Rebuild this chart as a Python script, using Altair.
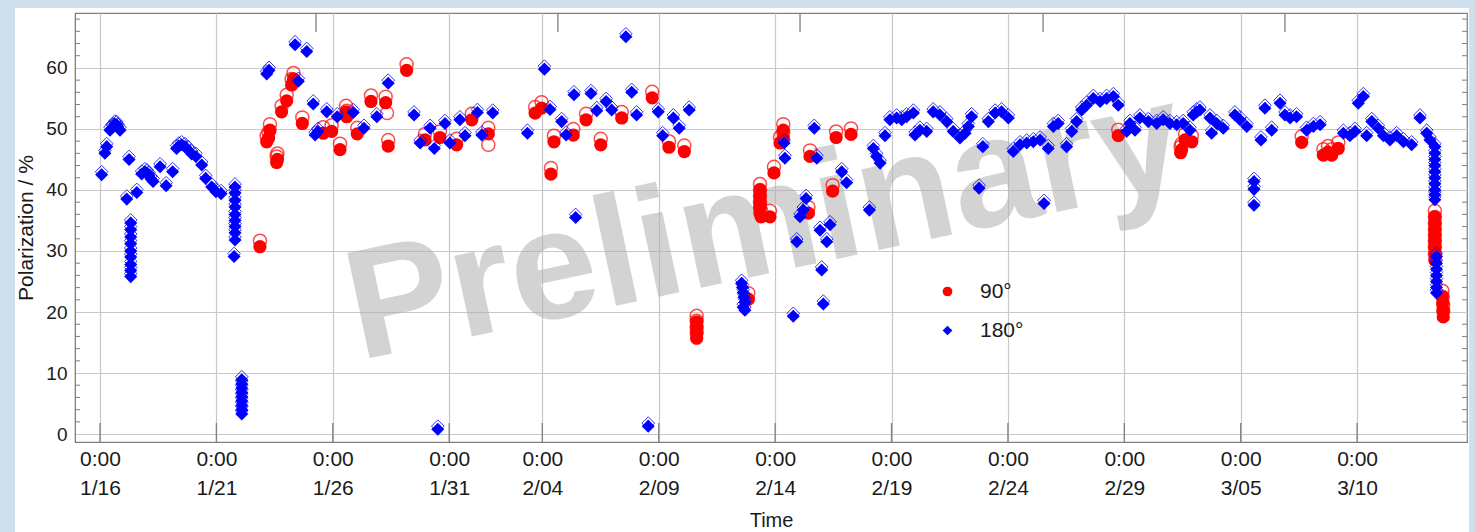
import altair as alt
import pandas as pd

# Time is kept as days since 2024-01-16 00:00 UTC.
BASE_MS = int(pd.Timestamp("2024-01-16", tz="UTC").value // 1_000_000)
DAY_MS = 86_400_000

# 180 degree configuration (blue diamonds)
blue_t = [
    0.07, 0.21, 0.29, 0.43, 0.52, 0.57, 0.64, 0.72, 0.77, 0.86,
    1.15, 1.25,
    1.32, 1.32, 1.32, 1.32, 1.32, 1.32, 1.32, 1.32, 1.32,
    1.58, 1.79, 1.93, 2.02, 2.10, 2.19, 2.28, 2.58, 2.84, 3.12,
    3.29, 3.39, 3.51, 3.65, 3.78, 3.94, 4.12, 4.37, 4.54, 4.80, 4.98, 5.20,
    5.80, 5.80, 5.80, 5.80, 5.80, 5.80, 5.80, 5.80, 5.80, 5.76,
    6.09, 6.09, 6.09, 6.09, 6.09, 6.09, 6.09, 6.09, 6.09,
    7.16, 7.26, 8.38, 8.52, 8.88, 9.16, 9.24, 9.36, 9.74, 10.19, 10.88,
    11.34, 11.89, 12.38, 13.49, 13.75, 14.18, 14.36, 14.51, 14.82, 15.03,
    15.46, 15.68, 16.21, 16.40, 16.87,
    18.36, 19.09, 19.33, 19.83, 20.02, 20.36, 20.43, 21.09, 21.34, 21.74,
    21.98, 22.59, 22.84, 23.05, 23.55, 23.98, 24.17, 24.63, 24.88, 25.31,
    27.56, 27.60, 27.63, 27.66, 27.70, 27.63, 27.70,
    29.39, 29.42, 29.78, 29.93, 30.07, 30.21, 30.33, 30.68, 30.79, 30.93,
    31.00, 31.07, 31.22, 31.36, 31.86, 32.07, 33.05, 33.22, 33.36, 33.51,
    33.72, 33.93, 34.22, 34.44, 34.65, 34.94, 35.01, 35.22, 35.51, 35.79,
    36.08, 36.37, 36.65, 36.94, 37.16, 37.30, 37.44, 37.76, 37.92, 38.16,
    38.45, 38.73, 39.02, 39.23, 39.52, 39.81, 40.09, 40.38, 40.55, 40.73,
    40.95, 41.16, 41.52, 41.74, 41.95, 42.17, 42.38, 42.67, 42.96, 43.24,
    43.53, 43.74, 44.10, 44.24, 44.46, 44.67, 45.03, 45.39, 45.67, 45.96,
    46.25, 46.53, 46.82, 46.96, 47.11, 47.25, 47.68, 47.75, 47.97, 48.25,
    48.75, 48.97, 49.26, 49.57, 49.57, 49.57, 49.87, 50.04, 50.33, 50.69,
    50.90, 51.12, 51.40, 51.83, 52.12, 52.41, 53.41, 53.69, 53.91, 54.05,
    54.27, 54.41, 54.63, 54.91, 55.13, 55.41, 55.70, 55.99, 56.34, 56.70,
    56.99, 57.13,
    57.34, 57.34, 57.34, 57.34, 57.34, 57.34, 57.34, 57.34, 57.34, 57.34,
    57.41, 57.41, 57.41, 57.41, 57.41, 57.41, 57.41,
]
blue_p = [
    42.5, 46.0, 47.1, 49.8, 50.2, 50.4, 50.8, 50.7, 50.3, 49.8,
    38.5, 45.0,
    34.6, 33.5, 32.3, 31.2, 30.0, 29.0, 27.8, 26.8, 25.8,
    39.6, 42.6, 43.0, 42.8, 42.4, 41.8, 41.4, 43.8, 40.7, 43.0,
    46.8, 47.2, 47.4, 47.1, 46.6, 45.9, 45.5, 44.1, 41.9, 40.5, 39.7, 39.4,
    40.5, 39.5, 38.3, 37.2, 36.0, 35.0, 34.0, 33.0, 31.8, 29.1,
    8.9, 8.2, 7.5, 6.8, 6.1, 5.4, 4.7, 4.0, 3.3,
    59.0, 59.6, 63.8, 57.8, 62.7, 54.1, 49.0, 49.6, 52.8, 52.0, 52.7,
    50.1, 52.0, 57.5, 52.3, 47.7, 50.1, 46.8, 0.8, 50.9, 47.7,
    51.5, 48.9, 52.7, 49.0, 52.6,
    49.3, 59.8, 53.2, 51.2, 49.0, 55.6, 35.5, 55.8, 53.0, 54.5,
    53.1, 65.1, 56.0, 52.3, 1.3, 52.8, 48.9, 51.8, 50.1, 53.1,
    24.7, 24.0, 23.2, 22.4, 21.6, 20.8, 20.3,
    47.7, 45.2, 19.3, 31.5, 35.6, 36.7, 38.6, 50.1, 45.2, 33.4,
    26.9, 21.3, 31.5, 34.3, 43.0, 41.2, 36.7, 46.8, 45.5, 44.4,
    48.9, 51.5, 51.8, 51.5, 52.0, 52.6, 49.0, 49.8, 49.6, 52.8,
    52.3, 51.2, 49.6, 48.5, 49.3, 50.4, 52.0, 40.3, 47.1, 51.2,
    52.6, 52.8, 51.8, 46.3, 47.4, 47.7, 47.9, 48.2, 37.8, 46.8,
    50.4, 50.9, 47.1, 49.6, 51.2, 53.1, 53.9, 55.0, 54.5, 55.0,
    55.3, 53.9, 49.6, 50.9, 49.8, 51.8, 51.2, 50.9, 51.5, 50.9,
    50.7, 50.9, 49.8, 52.3, 52.8, 53.1, 51.8, 49.3, 50.9, 50.1,
    52.3, 51.5, 50.4, 41.4, 40.1, 37.5, 48.2, 53.4, 49.8, 54.2,
    52.3, 51.8, 52.0, 49.8, 50.4, 50.7, 49.3, 48.9, 49.6, 54.2,
    55.3, 48.9, 51.2, 50.1, 48.9, 48.2, 48.9, 47.9, 47.4, 51.8,
    49.3, 48.2,
    47.1, 46.0, 45.0, 44.0, 43.0, 42.0, 41.0, 40.0, 39.2, 38.4,
    29.1, 28.0, 27.0, 26.0, 25.0, 24.0, 23.1,
]

# 90 degree configuration (red circles)
red_t = [
    6.87, 7.16, 7.24, 7.30, 7.59, 7.62, 7.80, 8.02, 8.23, 8.31, 8.69,
    9.59, 9.95, 10.31, 10.57, 10.60, 11.05, 11.64, 12.27, 12.38, 13.17,
    13.96, 14.60, 15.32, 15.97, 16.68,
    18.69, 18.97, 19.37, 19.50, 20.33, 20.88, 21.51, 22.41, 23.72, 24.44, 25.10,
    25.63, 25.63, 25.63, 25.63,
    27.85,
    28.35, 28.35, 28.35, 28.35, 28.35, 28.40, 28.78, 28.95,
    29.21, 29.35, 29.35, 30.43, 30.50, 31.47, 31.62, 32.26,
    43.74, 46.42, 46.46, 46.61, 46.90,
    51.62, 52.55, 52.75, 52.91, 53.19,
    57.34, 57.34, 57.34, 57.34, 57.34, 57.34, 57.34, 57.34,
    57.66, 57.68, 57.70, 57.70,
]
red_p = [
    30.7, 47.9, 48.5, 49.8, 44.5, 45.0, 52.8, 54.6, 57.2, 58.2, 50.9,
    49.3, 49.6, 46.6, 52.8, 52.0, 49.2, 54.5, 54.3, 47.2, 59.6,
    48.2, 48.6, 47.4, 51.5, 49.2,
    52.6, 53.4, 42.6, 47.9, 49.0, 51.5, 47.4, 51.8, 55.1, 47.0, 46.3,
    18.4, 17.6, 16.5, 15.7,
    22.1,
    40.0, 39.0, 38.0, 37.0, 36.2, 35.6, 35.6, 42.8,
    47.7, 49.8, 48.5, 36.2, 45.5, 39.8, 48.6, 49.1,
    48.9, 46.1, 46.6, 48.2, 47.9,
    47.8, 45.7, 46.2, 45.7, 46.8,
    35.6, 34.6, 33.6, 32.6, 31.6, 30.6, 29.6, 28.5,
    22.5, 21.5, 20.2, 19.2,
]

# open circles that sit below their filled partner
red_open_t = [12.33, 16.68]
red_open_p = [52.6, 47.4]

# axis ticks (days since 1/16)
date_ticks = [0, 5, 10, 15, 19, 24, 29, 34, 39, 44, 49, 54]
top_ticks = [9.28, 19.67, 30.07, 40.51, 50.90]
y_ticks = [0, 10, 20, 30, 40, 50, 60]
y_minor = [v for v in range(2, 70, 2) if v % 10]

X_LO, X_HI = -1.074, 58.72
Y_LO, Y_HI = -1.3, 69.0
W, H = 1392, 429


def ms(days):
    return [BASE_MS + d * DAY_MS for d in days]


df = pd.concat([
    pd.DataFrame({"time": ms(red_t), "p": red_p, "series": "90°"}),
    pd.DataFrame({"time": ms(blue_t), "p": blue_p, "series": "180°"}),
], ignore_index=True)
open_extra = pd.DataFrame({"time": ms(red_open_t), "p": red_open_p})
one = pd.DataFrame({"k": [0]})

FONT = "Liberation Sans"
RED, BLUE = "#ff0000", "#0000ff"

x_scale = alt.Scale(type="utc", domain=ms([X_LO, X_HI]))
y_scale = alt.Scale(domain=[Y_LO, Y_HI], nice=False, zero=False)

x_enc = alt.X(
    "time:T", scale=x_scale,
    axis=alt.Axis(
        values=ms(date_ticks), labelExpr="['0:00', utcFormat(datum.value, '%-m/%d')]",
        tickSize=0, labelFontSize=21, labelLineHeight=29, labelPadding=6,
        labelFont=FONT, labelColor="#1a1a1a", labelOverlap=False, labelFlush=False,
        domainColor="#7f7f7f", gridColor="#c8c8c8", gridWidth=1.2,
        title="Time", titleFont=FONT, titleFontSize=20, titleFontWeight="normal",
        titleColor="#1a1a1a", titlePadding=12,
    ),
)
y_enc = alt.Y(
    "p:Q", scale=y_scale,
    axis=alt.Axis(
        values=y_ticks, tickSize=0, labelFontSize=19, labelPadding=8, labelFont=FONT,
        labelColor="#1a1a1a", domainColor="#7f7f7f", gridColor="#c8c8c8", gridWidth=1.2,
        title="Polarization / %", titleFont=FONT, titleFontSize=21,
        titleFontWeight="normal", titleColor="#1a1a1a", titlePadding=9,
    ),
)

series_color = alt.Color(
    "series:N",
    scale=alt.Scale(domain=["90°", "180°"], range=[RED, BLUE]),
    legend=alt.Legend(
        title=None, orient="none", legendX=862, legendY=268,
        labelFont=FONT, labelFontSize=21, labelColor="#1a1a1a",
        symbolSize=95, symbolStrokeWidth=0, labelOffset=22, rowPadding=17,
    ),
)
series_shape = alt.Shape(
    "series:N", scale=alt.Scale(domain=["90°", "180°"], range=["circle", "diamond"]),
)

# light blue frame around the white panel
frame_fill = "#cfe0ec"
strips = [
    alt.Chart(one).mark_rect(color=frame_fill).encode(
        x=alt.value(-75), x2=alt.value(-60), y=alt.value(-13), y2=alt.value(H + 90)),
    alt.Chart(one).mark_rect(color=frame_fill).encode(
        x=alt.value(-75), x2=alt.value(W + 8), y=alt.value(-13), y2=alt.value(-5)),
    alt.Chart(one).mark_rect(color=frame_fill).encode(
        x=alt.value(W + 2), x2=alt.value(W + 8), y=alt.value(-13), y2=alt.value(H + 90)),
]

watermark = alt.Chart(one).mark_text(
    text="Preliminary", font=FONT, fontSize=156, fontWeight="bold",
    color="#b0b0b0", opacity=0.55, angle=348, align="center", baseline="alphabetic",
).encode(x=alt.value(700), y=alt.value(259))

tick_color = "#7f7f7f"
bottom_ticks = alt.Chart(pd.DataFrame({"time": ms(date_ticks)})).mark_rule(
    color=tick_color, strokeWidth=1.3).encode(
    x=alt.X("time:T", scale=x_scale), y=alt.value(H - 19), y2=alt.value(H))
top_tick_marks = alt.Chart(pd.DataFrame({"time": ms(top_ticks)})).mark_rule(
    color=tick_color, strokeWidth=1.3).encode(
    x=alt.X("time:T", scale=x_scale), y=alt.value(0), y2=alt.value(19))
minor_df = pd.DataFrame({"p": y_minor})
left_minor = alt.Chart(minor_df).mark_rule(color=tick_color, strokeWidth=1).encode(
    y=alt.Y("p:Q", scale=y_scale), x=alt.value(0), x2=alt.value(5))
right_minor = alt.Chart(minor_df).mark_rule(color=tick_color, strokeWidth=1).encode(
    y=alt.Y("p:Q", scale=y_scale), x=alt.value(W - 5), x2=alt.value(W))

base = alt.Chart(df)
red_open = base.transform_filter(alt.datum.series == "90°").mark_point(
    shape="circle", filled=False, color=RED, size=170, strokeWidth=1.5, yOffset=-6,
).encode(x=x_enc, y=y_enc)
red_open_low = alt.Chart(open_extra).mark_point(
    shape="circle", filled=False, color=RED, size=170, strokeWidth=1.5,
).encode(x=alt.X("time:T", scale=x_scale), y=alt.Y("p:Q", scale=y_scale))
red_fill = base.transform_filter(alt.datum.series == "90°").mark_point(
    filled=True, size=175, opacity=1,
).encode(x=x_enc, y=y_enc, color=series_color, shape=series_shape)
blue_open = base.transform_filter(alt.datum.series == "180°").mark_point(
    shape="diamond", filled=False, color=BLUE, size=160, strokeWidth=1.0,
    opacity=0.8, yOffset=-3,
).encode(x=x_enc, y=y_enc)
blue_fill = base.transform_filter(alt.datum.series == "180°").mark_point(
    filled=True, size=170, opacity=1,
).encode(x=x_enc, y=y_enc, color=series_color, shape=series_shape)

chart = alt.layer(
    *strips, watermark, bottom_ticks, top_tick_marks, left_minor, right_minor,
    red_open, red_open_low, red_fill, blue_open, blue_fill,
).properties(
    width=W, height=H, background="white",
    padding={"left": 75, "top": 13, "right": 8, "bottom": 90},
    autosize=alt.AutoSizeParams(type="none"),
).configure_view(stroke="#7f7f7f", strokeWidth=1.2)

chart.save("out.html", embed_options={"renderer": "svg", "actions": False})
